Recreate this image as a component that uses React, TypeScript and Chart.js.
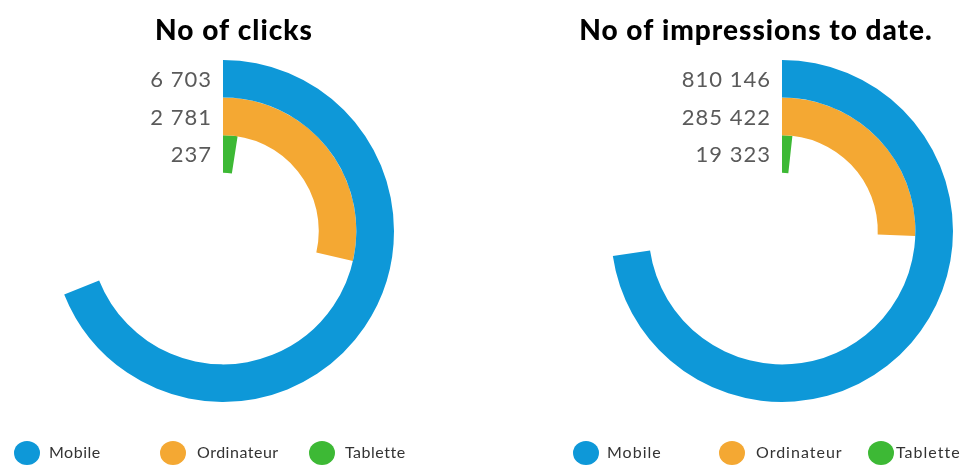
import React, { useEffect, useRef } from "react";
import { Chart, registerables } from "chart.js";

Chart.register(...registerables);

const seriesNames = ["Mobile", "Ordinateur", "Tablette"];
const seriesColors = ["#0E98D8", "#F4A833", "#3DB935"];
const clicksValues = [6703, 2781, 237];
const impressionsValues = [810146, 285422, 19323];
const clicksTitle = "No of clicks";
const impressionsTitle = "No of impressions to date.";
const clicksLabels = ["6 703", "2 781", "237"];
const impressionsLabels = ["810 146", "285 422", "19 323"];

type LegendPos = { cx: number; tx: number };

function makeOverlay(
  title: string,
  titleX: number,
  labels: string[],
  legend: LegendPos[],
  legendSpacing: string
) {
  return {
    id: "overlay",
    afterDraw(chart: any) {
      const ctx = chart.ctx as any;
      ctx.save();
      // title
      ctx.fillStyle = "#000";
      ctx.font = "900 28px Lato, 'DejaVu Sans', sans-serif";
      ctx.textAlign = "center";
      ctx.textBaseline = "alphabetic";
      ctx.letterSpacing = "1px";
      ctx.fillText(title, titleX, 40);
      // value labels next to ring starts
      ctx.fillStyle = "#5a5a5a";
      ctx.font = "22px Lato, 'DejaVu Sans', sans-serif";
      ctx.letterSpacing = "1px";
      ctx.textAlign = "right";
      ctx.textBaseline = "middle";
      chart.data.datasets.forEach((_ds: any, i: number) => {
        const meta = chart.getDatasetMeta(i);
        const arc: any = meta.data[0];
        if (!arc) return;
        const mid = (arc.innerRadius + arc.outerRadius) / 2;
        ctx.fillText(labels[i], arc.x - 11, arc.y - mid + 1);
      });
      // legend
      const ly = 453;
      ctx.font = "16px Lato, 'DejaVu Sans', sans-serif";
      ctx.letterSpacing = legendSpacing;
      ctx.textAlign = "left";
      legend.forEach((p, i) => {
        ctx.beginPath();
        ctx.fillStyle = seriesColors[i];
        ctx.ellipse(p.cx, ly, 13, 12, 0, 0, Math.PI * 2);
        ctx.fill();
        ctx.fillStyle = "#333";
        ctx.fillText(seriesNames[i], p.tx, ly);
      });
      ctx.restore();
    },
  };
}

function Ring(props: {
  values: number[];
  labels: string[];
  title: string;
  titleX: number;
  padding: { left: number; right: number; top: number; bottom: number };
  legend: LegendPos[];
  legendSpacing: string;
  width: number;
  left: number;
}) {
  const ref = useRef<HTMLCanvasElement | null>(null);
  useEffect(() => {
    if (!ref.current) return;
    const total = props.values.reduce((a, b) => a + b, 0);
    const chart = new Chart(ref.current, {
      type: "doughnut",
      data: {
        labels: ["value", "rest"],
        datasets: props.values.map((v, i) => ({
          label: seriesNames[i],
          data: [v, total - v],
          backgroundColor: [seriesColors[i], "rgba(0,0,0,0)"],
          borderWidth: 0,
          hoverBorderWidth: 0,
          hoverOffset: 0,
          offset: 0,
        })),
      },
      options: {
        animation: false,
        responsive: false,
        maintainAspectRatio: false,
        cutout: "34%",
        rotation: 0,
        circumference: 360,
        layout: { padding: props.padding },
        plugins: {
          legend: { display: false },
          tooltip: { enabled: false },
          title: { display: false },
        },
        events: [],
      },
      plugins: [
        makeOverlay(props.title, props.titleX, props.labels, props.legend, props.legendSpacing),
      ],
    });
    return () => chart.destroy();
  }, []);
  return (
    <canvas
      ref={ref}
      width={props.width}
      height={467}
      style={{ position: "absolute", left: props.left, top: 0, width: props.width, height: 467 }}
    />
  );
}

export default function App() {
  return (
    <div style={{ position: "fixed", left: 0, top: 0, width: 969, height: 467, background: "#fff" }}>
      <Ring
        values={clicksValues}
        labels={clicksLabels}
        title={clicksTitle}
        titleX={234}
        padding={{ left: 52, right: 90, top: 60, bottom: 65 }}
        legend={[
          { cx: 27, tx: 49 },
          { cx: 173, tx: 197 },
          { cx: 322, tx: 345 },
        ]}
        legendSpacing="0.5px"
        width={484}
        left={0}
      />
      <Ring
        values={impressionsValues}
        labels={impressionsLabels}
        title={impressionsTitle}
        titleX={756 - 484}
        padding={{ left: 127, right: 16, top: 60, bottom: 65 }}
        legend={[
          { cx: 586 - 484, tx: 607 - 484 },
          { cx: 732 - 484, tx: 756 - 484 },
          { cx: 881 - 484, tx: 896 - 484 },
        ]}
        legendSpacing="1px"
        width={485}
        left={484}
      />
    </div>
  );
}
